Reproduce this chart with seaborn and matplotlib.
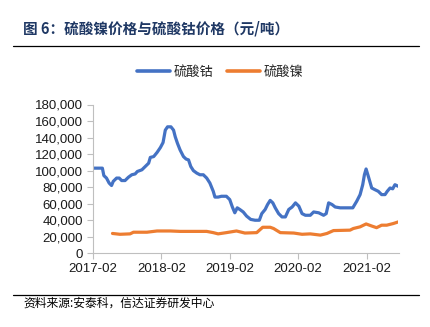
import matplotlib
matplotlib.use("Agg")
import matplotlib.pyplot as plt
import matplotlib.dates as mdates
import matplotlib.ticker as mticker
from matplotlib.lines import Line2D
import pandas as pd
import seaborn as sns

# ---- data ----
cobalt_dates = [
    "2017-02-01", "2017-03-23", "2017-03-31", "2017-04-14", "2017-04-28", "2017-05-11",
    "2017-05-20", "2017-06-07", "2017-06-21", "2017-07-04", "2017-07-22", "2017-08-09",
    "2017-08-27", "2017-09-14", "2017-09-26", "2017-10-20", "2017-11-07", "2017-11-25",
    "2017-12-04", "2017-12-22", "2018-01-09", "2018-01-27", "2018-02-10", "2018-02-22",
    "2018-03-06", "2018-03-24", "2018-04-07", "2018-04-16", "2018-04-28", "2018-05-12",
    "2018-05-30", "2018-06-13", "2018-06-26", "2018-07-08", "2018-07-22", "2018-08-09",
    "2018-08-26", "2018-09-13", "2018-10-01", "2018-10-18", "2018-11-05", "2018-11-14",
    "2018-12-01", "2018-12-19", "2019-01-14", "2019-02-01", "2019-02-15", "2019-02-28",
    "2019-03-13", "2019-03-27", "2019-04-14", "2019-05-02", "2019-05-24", "2019-06-16",
    "2019-07-09", "2019-07-22", "2019-08-09", "2019-08-22", "2019-09-05", "2019-09-19",
    "2019-10-02", "2019-10-20", "2019-11-07", "2019-11-25", "2019-12-13", "2019-12-31",
    "2020-01-18", "2020-02-05", "2020-02-22", "2020-03-11", "2020-04-06", "2020-04-24",
    "2020-05-21", "2020-06-16", "2020-06-30", "2020-07-13", "2020-07-31", "2020-08-17",
    "2020-09-13", "2020-10-18", "2020-11-19", "2020-12-10", "2020-12-28", "2021-01-11",
    "2021-01-20", "2021-01-29", "2021-02-10", "2021-02-28", "2021-03-17", "2021-04-04",
    "2021-04-22", "2021-05-10", "2021-05-22", "2021-06-06", "2021-06-20", "2021-07-02",
    "2021-07-20",
]
cobalt_values = [
    103000, 103000, 94000, 91000, 85000, 82000,
    87000, 91000, 91000, 88000, 88000, 92000,
    95000, 96000, 99000, 101000, 105000, 109000,
    116000, 117000, 122000, 128000, 134000, 149000,
    153000, 153000, 149000, 141000, 133000, 125000,
    117000, 114000, 113000, 105000, 100000, 97000,
    95000, 95000, 91000, 85000, 75000, 68000,
    68000, 69000, 69000, 65000, 56000, 49000,
    55000, 53000, 50000, 45000, 41000, 40000,
    40000, 48000, 53000, 59000, 64000, 61000,
    55000, 48000, 44000, 44000, 53000, 56000,
    61000, 57000, 48000, 46000, 46000, 50000,
    49000, 46000, 48000, 61000, 59000, 56000,
    55000, 55000, 55000, 63000, 71000, 83000,
    95000, 102000, 93000, 79000, 77000, 75000,
    71000, 71000, 75000, 79000, 78000, 83000,
    81000,
]
nickel_dates = [
    "2017-05-16", "2017-06-25", "2017-08-18", "2017-09-05", "2017-11-16", "2018-01-09",
    "2018-03-21", "2018-05-12", "2018-10-01", "2018-11-05", "2018-12-01", "2019-01-14",
    "2019-03-09", "2019-04-23", "2019-06-25", "2019-07-27", "2019-09-05", "2019-09-23",
    "2019-10-29", "2020-01-09", "2020-02-22", "2020-04-06", "2020-05-30", "2020-07-04",
    "2020-08-08", "2020-11-04", "2020-11-22", "2020-12-28", "2021-01-29", "2021-02-28",
    "2021-03-26", "2021-04-22", "2021-05-19", "2021-06-23", "2021-07-20",
]
nickel_values = [
    24000, 23000, 23500, 25500, 25500, 27000,
    27000, 26500, 26500, 25000, 23500, 25000,
    27000, 24500, 25000, 31500, 31500, 30000,
    25000, 24500, 23000, 23500, 22000, 24000,
    27500, 28000, 30000, 32000, 35500, 33000,
    31000, 34000, 34000, 36000, 38000,
]
series_names = ["硫酸钴", "硫酸镍"]
series_colors = ["#4472C4", "#ED7D31"]
x_ticks = ["2017-02-01", "2018-02-01", "2019-02-01", "2020-02-01", "2021-02-01"]
y_ticks = [0, 20000, 40000, 60000, 80000, 100000, 120000, 140000, 160000, 180000]

title_text = "图 6：硫酸镍价格与硫酸钴价格（元/吨）"
source_text = "资料来源:安泰科，信达证券研发中心"

df = pd.concat([
    pd.DataFrame({"date": pd.to_datetime(cobalt_dates), "price": cobalt_values, "series": series_names[0]}),
    pd.DataFrame({"date": pd.to_datetime(nickel_dates), "price": nickel_values, "series": series_names[1]}),
], ignore_index=True)

sns.set_theme(style="white")
plt.rcParams["font.family"] = ["Liberation Sans", "Noto Sans CJK SC", "DejaVu Sans"]

fig = plt.figure(figsize=(4.30, 3.27), dpi=100)
ax = fig.add_axes([93 / 430, 1 - 253.3 / 327, (398.5 - 93) / 430, (253.3 - 104.5) / 327])

sns.lineplot(data=df, x="date", y="price", hue="series", hue_order=series_names,
             palette=series_colors, linewidth=2.3, ax=ax, legend=False, estimator=None)

ax.set_xlim(pd.Timestamp("2017-02-01"), pd.Timestamp("2021-07-21"))
ax.set_ylim(0, 180000)
ax.set_xticks(pd.to_datetime(x_ticks))
ax.xaxis.set_major_formatter(mdates.DateFormatter("%Y-%m"))
ax.set_yticks(y_ticks)
ax.yaxis.set_major_formatter(mticker.FuncFormatter(lambda v, p: f"{int(v):,}"))
ax.set_xlabel("")
ax.set_ylabel("")
for s in ["top", "right"]:
    ax.spines[s].set_visible(False)
for s in ["left", "bottom"]:
    ax.spines[s].set_color("#BFBFBF")
    ax.spines[s].set_linewidth(0.8)
ax.tick_params(axis="both", which="major", length=4, width=0.8, color="#BFBFBF",
               labelsize=9.5, labelcolor="#1a1a1a", pad=3, direction="out")
ax.tick_params(axis="x", bottom=True)
ax.tick_params(axis="y", left=True)
ax.grid(False)

handles = [Line2D([0], [0], color=c, lw=2.6) for c in series_colors]
fig.legend(handles, series_names, loc="center", bbox_to_anchor=(0.512, 0.78), ncol=2,
           frameon=False, handlelength=2.5, handletextpad=0.25, columnspacing=1.1,
           prop={"family": ["Noto Sans CJK SC"], "size": 9.5})

# title and rules
fig.text(23 / 430, 1 - 28 / 327, title_text, fontsize=10.5, fontweight="bold", color="#1F3864",
         va="center", ha="left", family=["Noto Sans CJK SC", "DejaVu Sans"])
fig.add_artist(Line2D([13 / 430, 419 / 430], [1 - 46 / 327, 1 - 46 / 327], color="black", lw=0.9))
fig.add_artist(Line2D([13 / 430, 419 / 430], [1 - 295 / 327, 1 - 295 / 327], color="black", lw=0.9))
fig.text(23 / 430, 1 - 303 / 327, source_text, fontsize=8.5, color="black",
         va="center", ha="left", family=["Noto Sans CJK SC", "DejaVu Sans"])

fig.savefig("out.png", dpi=100)
